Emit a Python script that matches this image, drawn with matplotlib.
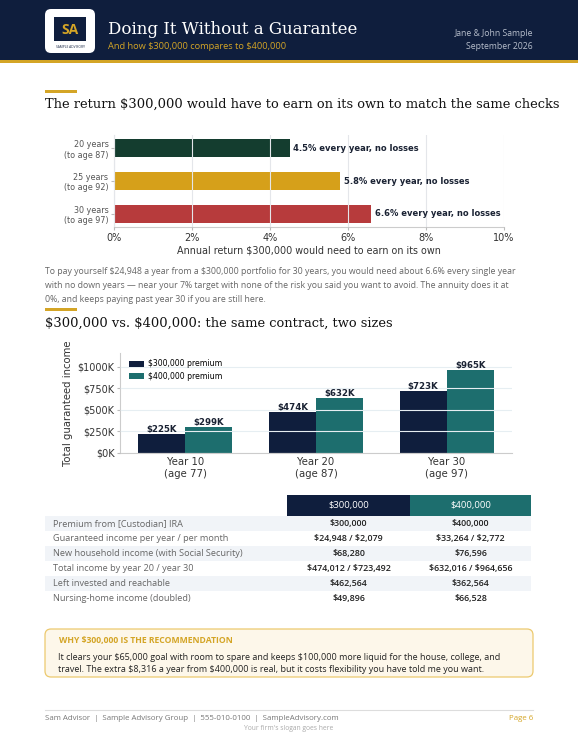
import numpy as np
import matplotlib.pyplot as plt
from matplotlib.patches import Rectangle, FancyBboxPatch

plt.rcParams['text.parse_math'] = False

W, H = 578, 748

NAVY = '#0f1e3d'
TEAL = '#1d6e6e'
GOLD = '#d4a526'
GREEN = '#143d2f'
YELLOW = '#d6a01a'
RED = '#b73b3c'

SANS = 'Open Sans'
SERIF = 'DejaVu Serif'

### chart 1 data
horizon_labels = ['20 years\n(to age 87)', '25 years\n(to age 92)', '30 years\n(to age 97)']
required_return = [4.5, 5.8, 6.6]
return_colors = [GREEN, YELLOW, RED]

### chart 2 data
year_labels = ['Year 10\n(age 77)', 'Year 20\n(age 87)', 'Year 30\n(age 97)']
income_300 = [225, 474, 723]   # $K
income_400 = [299, 632, 965]   # $K

### table data
table_cols = ['$300,000', '$400,000']
table_rows = ['Premium from [Custodian] IRA',
              'Guaranteed income per year / per month',
              'New household income (with Social Security)',
              'Total income by year 20 / year 30',
              'Left invested and reachable',
              'Nursing-home income (doubled)']
table_300 = ['$300,000', '$24,948 / $2,079', '$68,280', '$474,012 / $723,492', '$462,564', '$49,896']
table_400 = ['$400,000', '$33,264 / $2,772', '$76,596', '$632,016 / $964,656', '$362,564', '$66,528']

paragraph = ['To pay yourself $24,948 a year from a $300,000 portfolio for 30 years, you would need about 6.6% every single year',
             'with no down years \u2014 near your 7% target with none of the risk you said you want to avoid. The annuity does it at',
             '0%, and keeps paying past year 30 if you are still here.']
callout = ['It clears your $65,000 goal with room to spare and keeps $100,000 more liquid for the house, college, and',
           'travel. The extra $8,316 a year from $400,000 is real, but it costs flexibility you have told me you want.']

fig = plt.figure(figsize=(W / 100, H / 100), dpi=100)
fig.patch.set_facecolor('white')

# page axes in pixel coords
pg = fig.add_axes([0, 0, 1, 1])
pg.set_xlim(0, W)
pg.set_ylim(H, 0)
pg.axis('off')


def box(x0, y0, x1, y1, **kw):
    pg.add_patch(Rectangle((x0, y0), x1 - x0, y1 - y0, **kw))


def axrect(x0, y0, x1, y1):
    return [x0 / W, 1 - y1 / H, (x1 - x0) / W, (y1 - y0) / H]


# header
box(0, 0, W, 60, color=NAVY, lw=0)
box(0, 60, W, 63, color=GOLD, lw=0)
pg.add_patch(FancyBboxPatch((45, 9), 50, 44, boxstyle='round,pad=0,rounding_size=6',
                            fc='white', ec='none'))
box(54, 17, 86, 41, color=NAVY, lw=0)
pg.text(70, 29.5, 'SA', color=GOLD, fontsize=10, fontweight='bold', ha='center', va='center', family=SANS)
pg.text(70, 46.5, 'SAMPLE ADVISORY', color=NAVY, fontsize=2.3, ha='center', va='center', family=SANS)
pg.text(108, 29, 'Doing It Without a Guarantee', color='white', fontsize=12, va='center', family=SERIF)
pg.text(108, 46, 'And how $300,000 compares to $400,000', color=GOLD, fontsize=6.7, va='center', family=SANS)
pg.text(533, 33, 'Jane & John Sample', color='#b8bfcc', fontsize=6.2, ha='right', va='center', family=SANS)
pg.text(533, 46, 'September 2026', color='#b8bfcc', fontsize=6.2, ha='right', va='center', family=SANS)

# section 1 heading
box(45, 90, 77, 93, color=GOLD, lw=0)
pg.text(45, 104, 'The return $300,000 would have to earn on its own to match the same checks',
        color='#111111', fontsize=9.4, va='center', family=SERIF)

# chart 1
ax1 = fig.add_axes(axrect(114, 135, 504, 227))
ypos = np.arange(len(required_return))
ax1.barh(ypos, required_return, height=0.55, color=return_colors, zorder=1)
for y, v in zip(ypos, required_return):
    ax1.text(v + 0.1, y, f'{v}% every year, no losses', va='center', ha='left',
             fontsize=6.0, fontweight='bold', color='#1a2233')
ax1.set_xlim(0, 10)
ax1.set_yticks(ypos)
ax1.set_yticklabels(horizon_labels)
ax1.invert_yaxis()
ax1.set_xticks([0, 2, 4, 6, 8, 10])
ax1.set_xticklabels(['0%', '2%', '4%', '6%', '8%', '10%'])
ax1.set_xlabel('Annual return $300,000 would need to earn on its own', fontsize=6.9, color='#333333', labelpad=2)
ax1.tick_params(axis='y', labelsize=5.8, labelcolor='#555555', length=2, color='#bbbbbb', pad=2)
ax1.tick_params(axis='x', labelsize=7, labelcolor='#333333', length=2, color='#bbbbbb', pad=2)
ax1.grid(axis='x', color='#e4e6ea', lw=0.8, zorder=2)
ax1.set_axisbelow(False)
for s in ['top', 'right']:
    ax1.spines[s].set_visible(False)
for s in ['left', 'bottom']:
    ax1.spines[s].set_color('#cccccc')
    ax1.spines[s].set_linewidth(0.8)

# paragraph
for i, line in enumerate(paragraph):
    pg.text(45, 271 + i * 14, line, color='#666666', fontsize=6.3, va='center', family=SANS)

# section 2 heading
box(45, 308, 77, 311, color=GOLD, lw=0)
pg.text(45, 323, '$300,000 vs. $400,000: the same contract, two sizes',
        color='#111111', fontsize=9.4, va='center', family=SERIF)

# chart 2
ax2 = fig.add_axes(axrect(120, 353, 512, 453))
x = np.arange(len(year_labels))
bw = 0.36
b1 = ax2.bar(x - bw / 2, income_300, bw, color=NAVY, label='$300,000 premium', zorder=1)
b2 = ax2.bar(x + bw / 2, income_400, bw, color=TEAL, label='$400,000 premium', zorder=1)
for bars, vals in [(b1, income_300), (b2, income_400)]:
    for b, v in zip(bars, vals):
        ax2.text(b.get_x() + b.get_width() / 2, v, f'${v}K', ha='center', va='bottom',
                 fontsize=6.2, fontweight='bold', color='#1a2233')
ax2.set_xlim(-0.5, 2.5)
ax2.set_ylim(0, max(income_400) * 1.2)
ax2.set_yticks([0, 250, 500, 750, 1000])
ax2.set_yticklabels(['$0K', '$250K', '$500K', '$750K', '$1000K'])
ax2.set_xticks(x)
ax2.set_xticklabels(year_labels)
ax2.set_ylabel('Total guaranteed income', fontsize=7.3, color='#333333', labelpad=3)
ax2.tick_params(axis='y', labelsize=7, labelcolor='#333333', length=2, color='#bbbbbb', pad=2)
ax2.tick_params(axis='x', labelsize=7.3, labelcolor='#333333', length=0, pad=3)
ax2.grid(axis='y', color='#e6eef2', lw=0.8, zorder=2)
ax2.set_axisbelow(False)
for s in ['top', 'right']:
    ax2.spines[s].set_visible(False)
for s in ['left', 'bottom']:
    ax2.spines[s].set_color('#cccccc')
    ax2.spines[s].set_linewidth(0.8)
ax2.legend(loc='upper left', frameon=False, fontsize=5.6, handlelength=1.9, handleheight=0.9,
           handletextpad=0.5, borderaxespad=0.3, labelspacing=0.45, bbox_to_anchor=(0.01, 0.99))

# table
box(287, 495, 410, 516, color=NAVY, lw=0)
box(410, 495, 531, 516, color=TEAL, lw=0)
pg.text(348.5, 505.5, table_cols[0], color='white', fontsize=6.8, ha='center', va='center', family=SANS)
pg.text(470.5, 505.5, table_cols[1], color='white', fontsize=6.8, ha='center', va='center', family=SANS)
for i, (lab, v1, v2) in enumerate(zip(table_rows, table_300, table_400)):
    y0 = 516 + i * 15
    if i % 2 == 0:
        box(45, y0, 531, y0 + 15, color='#f1f4f8', lw=0)
    yc = y0 + 7.5
    pg.text(53, yc, lab, color='#666666', fontsize=6.55, va='center', family=SANS)
    pg.text(348.5, yc, v1, color='#222222', fontsize=6.4, ha='center', va='center', family=SANS,
            fontweight='semibold')
    pg.text(470.5, yc, v2, color='#222222', fontsize=6.4, ha='center', va='center', family=SANS,
            fontweight='semibold')

# callout
pg.add_patch(FancyBboxPatch((45, 629), 488, 48, boxstyle='round,pad=0,rounding_size=6',
                            fc='#fdf7ea', ec='#ecc96e', lw=0.9))
pg.text(59, 641, 'WHY $300,000 IS THE RECOMMENDATION', color=GOLD, fontsize=6.2,
        fontweight='bold', va='center', family=SANS)
for i, line in enumerate(callout):
    pg.text(58, 657 + i * 13, line, color='#222222', fontsize=6.5, va='center', family=SANS)

# footer
pg.plot([45, 533], [710, 710], color='#dddddd', lw=0.8)
pg.text(45, 719, 'Sam Advisor  |  Sample Advisory Group  |  555-010-0100  |  SampleAdvisory.com',
        color='#777777', fontsize=5.7, va='center', family=SANS)
pg.text(533, 719, 'Page 6', color=GOLD, fontsize=5.7, ha='right', va='center', family=SANS)
pg.text(289, 729, "Your firm's slogan goes here", color='#aaaaaa', fontsize=4.9, ha='center',
        va='center', family=SANS)

fig.savefig('out.png', dpi=100)
